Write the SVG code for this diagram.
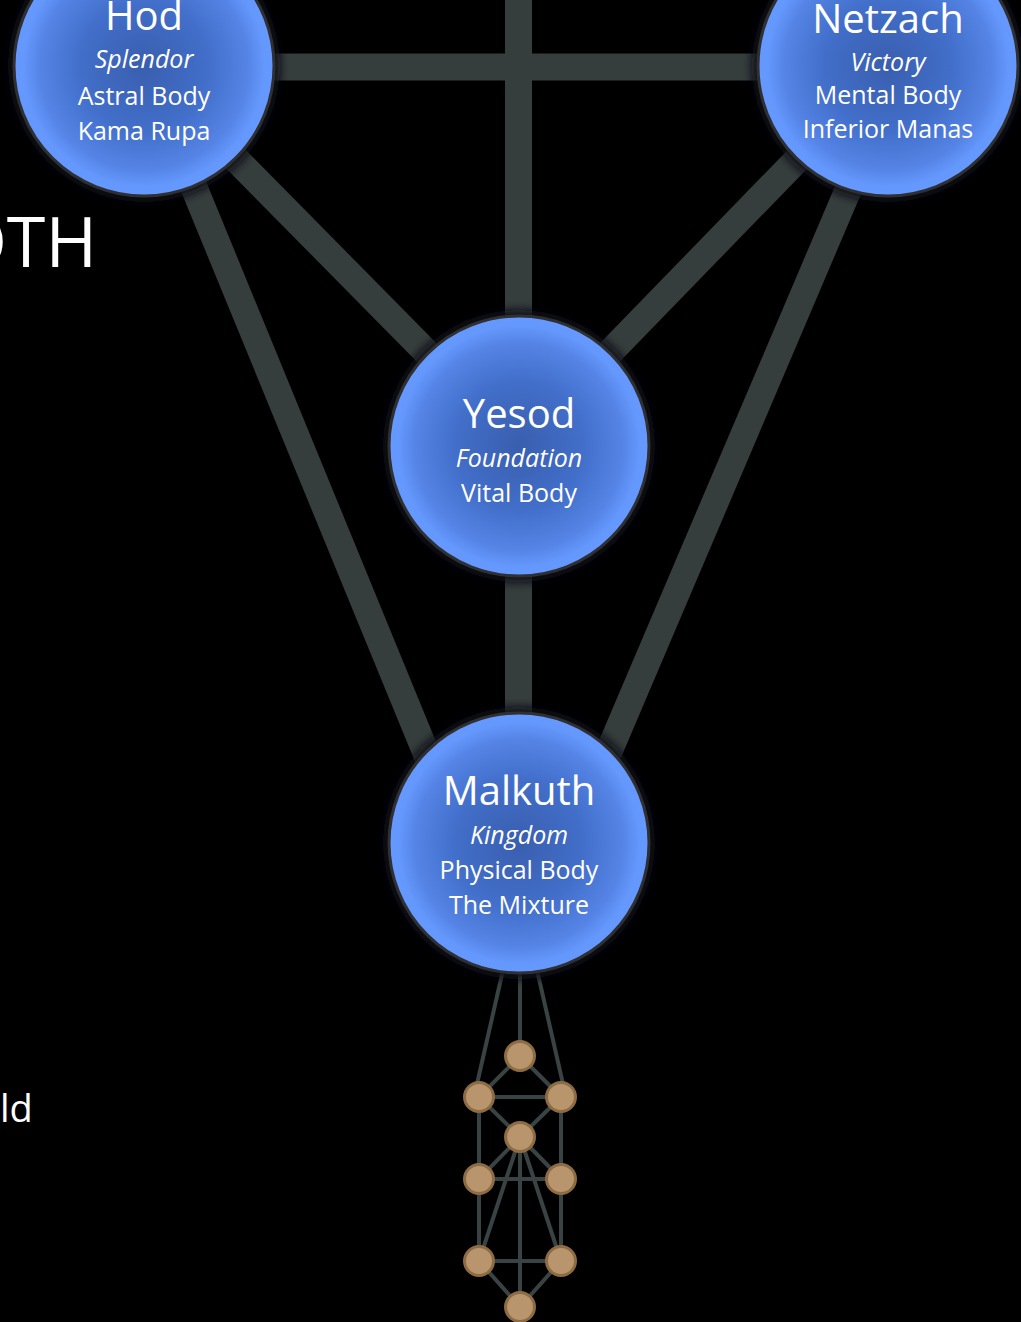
<svg xmlns="http://www.w3.org/2000/svg" width="1021" height="1322" viewBox="0 0 1021 1322">
<defs>
<radialGradient id="orb" cx="50%" cy="50%" r="50%">
<stop offset="0" stop-color="#395eae"/>
<stop offset="0.5" stop-color="#426fca"/>
<stop offset="0.8" stop-color="#5584e6"/>
<stop offset="0.93" stop-color="#6598fd"/>
<stop offset="1" stop-color="#6699ff"/>
</radialGradient>
<filter id="halo" x="-20%" y="-20%" width="140%" height="140%">
<feGaussianBlur stdDeviation="5"/>
</filter>
<style>
.bar{stroke:#363d3d;stroke-width:27;fill:none}
.thin{stroke:#3a4343;stroke-width:4;fill:none}
.shadow{fill:#0a0c12;filter:url(#halo)}
.orb{fill:url(#orb);stroke:#2f3034;stroke-width:3}
.t1{font-family:"Open Sans","DejaVu Sans",sans-serif;font-size:40px;fill:#fff;text-anchor:middle}
.t2{font-family:"Open Sans","DejaVu Sans",sans-serif;font-size:25px;fill:#fff;text-anchor:middle}
.it{font-style:italic}
.big{font-family:"Open Sans","DejaVu Sans",sans-serif;fill:#fff}
.leaf{fill:#b8956c;stroke:#8d6c43;stroke-width:3}
</style>
</defs>
<rect width="1021" height="1322" fill="#000"/>
<text class="big" x="97" y="267" font-size="70" text-anchor="end">OTH</text>
<text class="big" x="0" y="1122" font-size="38">ld</text>
<g id="connectors">
<line class="bar" x1="144" y1="67" x2="888" y2="67"/>
<line class="bar" x1="518.5" y1="0" x2="518.5" y2="843"/>
<line class="bar" x1="144" y1="66" x2="519" y2="446"/>
<line class="bar" x1="888" y1="66" x2="519" y2="446"/>
<line class="bar" x1="145" y1="68" x2="463" y2="843"/>
<line class="bar" x1="900" y1="68" x2="570" y2="843"/>
<line class="thin" x1="503" y1="970" x2="477" y2="1084"/>
<line class="thin" x1="520" y1="970" x2="520" y2="1056"/>
<line class="thin" x1="537" y1="970" x2="563" y2="1084"/>
<line class="thin" x1="520" y1="1056" x2="479" y2="1097"/>
<line class="thin" x1="520" y1="1056" x2="561" y2="1097"/>
<line class="thin" x1="479" y1="1097" x2="561" y2="1097"/>
<line class="thin" x1="479" y1="1097" x2="520" y2="1137"/>
<line class="thin" x1="561" y1="1097" x2="520" y2="1137"/>
<line class="thin" x1="479" y1="1097" x2="479" y2="1261"/>
<line class="thin" x1="561" y1="1097" x2="561" y2="1261"/>
<line class="thin" x1="520" y1="1137" x2="479" y2="1179"/>
<line class="thin" x1="520" y1="1137" x2="561" y2="1179"/>
<line class="thin" x1="479" y1="1179" x2="561" y2="1179"/>
<line class="thin" x1="520" y1="1137" x2="479" y2="1261"/>
<line class="thin" x1="520" y1="1137" x2="561" y2="1261"/>
<line class="thin" x1="520" y1="1137" x2="520" y2="1307"/>
<line class="thin" x1="479" y1="1261" x2="561" y2="1261"/>
<line class="thin" x1="479" y1="1261" x2="520" y2="1307"/>
<line class="thin" x1="561" y1="1261" x2="520" y2="1307"/>
</g>
<g id="hod">
<circle class="shadow" cx="144" cy="66" r="136"/>
<circle class="orb" cx="144" cy="66" r="130"/>
<text class="t1" x="144" y="30">Hod</text>
<text class="t2 it" x="144" y="68">Splendor</text>
<text class="t2" x="144" y="105">Astral Body</text>
<text class="t2" x="144" y="140">Kama Rupa</text>
</g>
<g id="netzach">
<circle class="shadow" cx="888" cy="66" r="136"/>
<circle class="orb" cx="888" cy="66" r="130"/>
<text class="t1" x="888" y="33">Netzach</text>
<text class="t2 it" x="888" y="71">Victory</text>
<text class="t2" x="888" y="104">Mental Body</text>
<text class="t2" x="888" y="138">Inferior Manas</text>
</g>
<g id="yesod">
<circle class="shadow" cx="519" cy="446" r="136"/>
<circle class="orb" cx="519" cy="446" r="130"/>
<text class="t1" x="519" y="428">Yesod</text>
<text class="t2 it" x="519" y="467">Foundation</text>
<text class="t2" x="519" y="502">Vital Body</text>
</g>
<g id="malkuth">
<circle class="shadow" cx="519" cy="843" r="136"/>
<circle class="orb" cx="519" cy="843" r="130"/>
<text class="t1" x="519" y="805">Malkuth</text>
<text class="t2 it" x="519" y="844">Kingdom</text>
<text class="t2" x="519" y="879">Physical Body</text>
<text class="t2" x="519" y="914">The Mixture</text>
</g>
<g id="small-tree">
<circle class="leaf" cx="520" cy="1056" r="14.5"/>
<circle class="leaf" cx="479" cy="1097" r="14.5"/>
<circle class="leaf" cx="561" cy="1097" r="14.5"/>
<circle class="leaf" cx="520" cy="1137" r="14.5"/>
<circle class="leaf" cx="479" cy="1179" r="14.5"/>
<circle class="leaf" cx="561" cy="1179" r="14.5"/>
<circle class="leaf" cx="479" cy="1261" r="14.5"/>
<circle class="leaf" cx="561" cy="1261" r="14.5"/>
<circle class="leaf" cx="520" cy="1307" r="14.5"/>
</g>
</svg>
